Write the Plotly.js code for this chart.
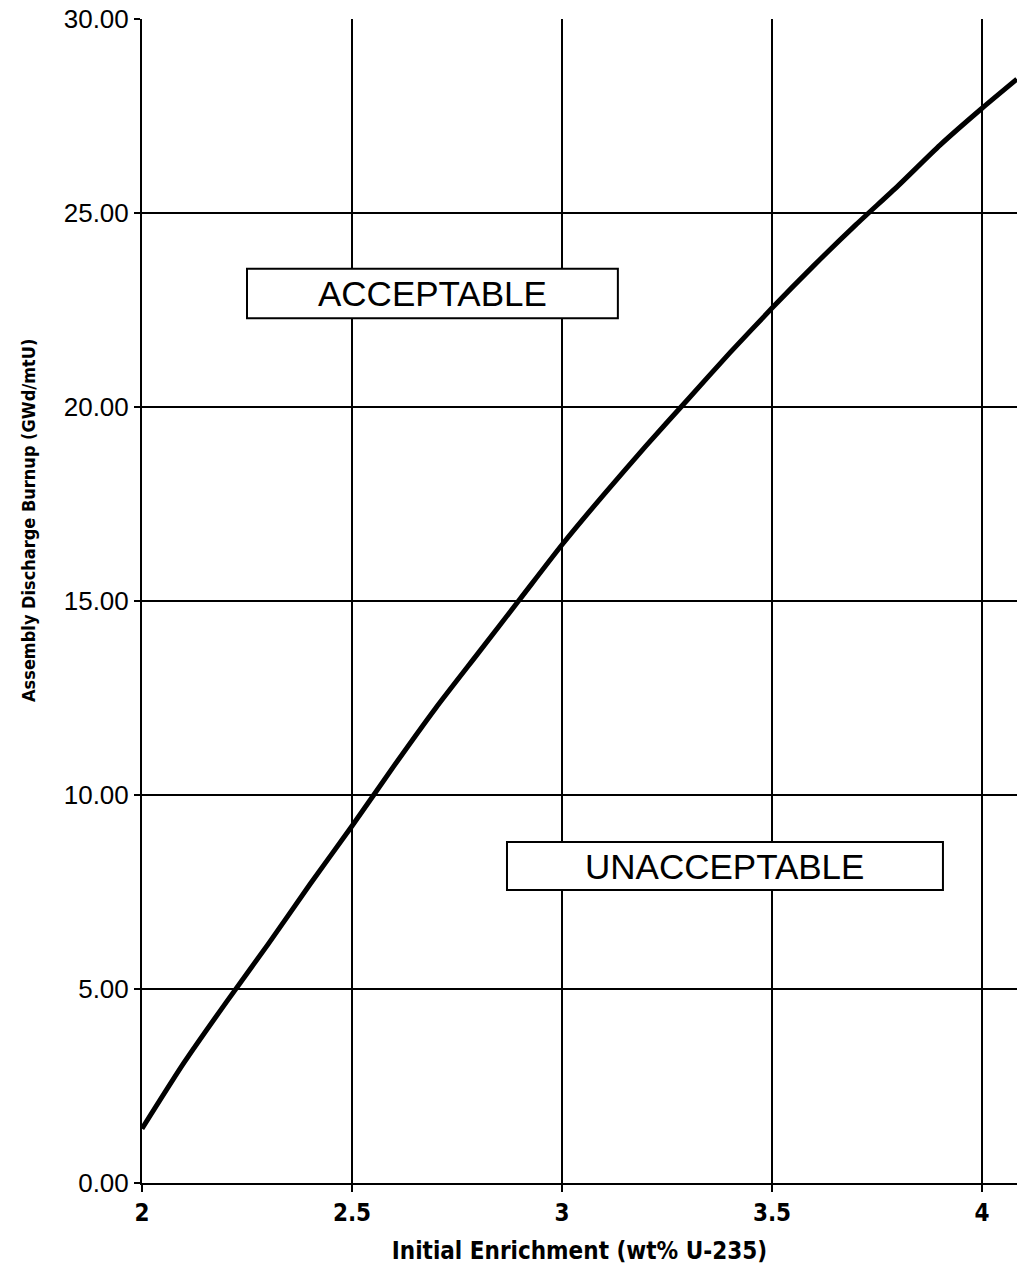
<!DOCTYPE html>
<html>
<head>
<meta charset="utf-8">
<script src="https://cdn.plot.ly/plotly-3.0.1.min.js"></script>
<style>html,body{margin:0;padding:0;background:#fff;}#chart{width:1017px;height:1276px;}</style>
</head>
<body>
<div id="chart"></div>
<script>
// Initial enrichment (wt% U-235)
const enrichment = [2.0, 2.1, 2.2, 2.3, 2.4, 2.5, 2.6, 2.7, 2.8, 2.9, 3.0, 3.1, 3.2, 3.3, 3.4, 3.5, 3.6, 3.7, 3.8, 3.9, 4.0, 4.083];
// Assembly discharge burnup (GWd/mtU)
const burnup = [1.4, 3.1, 4.65, 6.15, 7.7, 9.2, 10.75, 12.25, 13.65, 15.05, 16.45, 17.75, 19.0, 20.2, 21.4, 22.55, 23.65, 24.7, 25.7, 26.75, 27.7, 28.45];
const xTickVals = [2, 2.5, 3, 3.5, 4];
const xTickText = ["2", "2.5", "3", "3.5", "4"];
const yTickVals = [0, 5, 10, 15, 20, 25, 30];
const yTickText = ["0.00", "5.00", "10.00", "15.00", "20.00", "25.00", "30.00"];
const xTitle = "Initial Enrichment (wt% U-235)";
const yTitle = "Assembly Discharge Burnup (GWd/mtU)";
const regionLabels = ["ACCEPTABLE", "UNACCEPTABLE"];
const regionBoxX0 = [2.25, 2.869];
const regionBoxX1 = [3.133, 3.907];
const regionBoxY0 = [22.29, 7.55];
const regionBoxY1 = [23.56, 8.79];

const narrowBold = "DejaVu Sans Condensed, Liberation Sans Narrow, Liberation Sans, Arial, sans-serif";
const regular = "Liberation Sans, Arial, sans-serif";

const shapes = regionLabels.map((_, i) => ({
  type: 'rect', xref: 'x', yref: 'y',
  x0: regionBoxX0[i], x1: regionBoxX1[i], y0: regionBoxY0[i], y1: regionBoxY1[i],
  line: {color: '#000', width: 2}, fillcolor: '#fff', layer: 'above'
}));
const annotations = regionLabels.map((t, i) => ({
  xref: 'x', yref: 'y',
  x: (regionBoxX0[i] + regionBoxX1[i]) / 2, y: (regionBoxY0[i] + regionBoxY1[i]) / 2,
  text: t, showarrow: false, font: {family: regular, size: 35, color: '#000'}
}));
// y-axis title placed as rotated text (it sits above the plot's vertical centre in the reference)
annotations.push({
  xref: 'paper', yref: 'paper', x: -0.130, y: 0.569, xanchor: 'center', yanchor: 'middle',
  textangle: -90, text: '<b>' + yTitle + '</b>', showarrow: false,
  font: {family: narrowBold, size: 18, color: '#000'}
});

const trace = {
  x: enrichment, y: burnup, type: 'scatter', mode: 'lines',
  line: {color: '#000', width: 5, shape: 'spline', smoothing: 0.6},
  hoverinfo: 'x+y', showlegend: false
};

const layout = {
  width: 1017, height: 1276,
  margin: {l: 142, r: 0, t: 19, b: 93},
  paper_bgcolor: '#fff', plot_bgcolor: '#fff',
  showlegend: false,
  xaxis: {
    range: [2, 4.0833], tickvals: xTickVals, ticktext: xTickText,
    showgrid: true, gridcolor: '#000', gridwidth: 1.5,
    showline: true, linecolor: '#000', linewidth: 2,
    ticks: 'outside', ticklen: 7, tickcolor: '#000', tickwidth: 1.5,
    zeroline: false,
    tickfont: {family: narrowBold, size: 24, color: '#000', weight: 'bold'},
    title: {text: '<b>' + xTitle + '</b>', standoff: 16,
      font: {family: narrowBold, size: 24, color: '#000'}}
  },
  yaxis: {
    range: [0, 30], tickvals: yTickVals, ticktext: yTickText,
    showgrid: true, gridcolor: '#000', gridwidth: 1.5,
    showline: true, linecolor: '#000', linewidth: 2,
    ticks: 'outside', ticklen: 6, tickcolor: '#000', tickwidth: 1.5,
    zeroline: false,
    tickfont: {family: regular, size: 26, color: '#000'}
  },
  shapes: shapes,
  annotations: annotations
};

Plotly.newPlot('chart', [trace], layout, {staticPlot: true, displayModeBar: false});
</script>
</body>
</html>
